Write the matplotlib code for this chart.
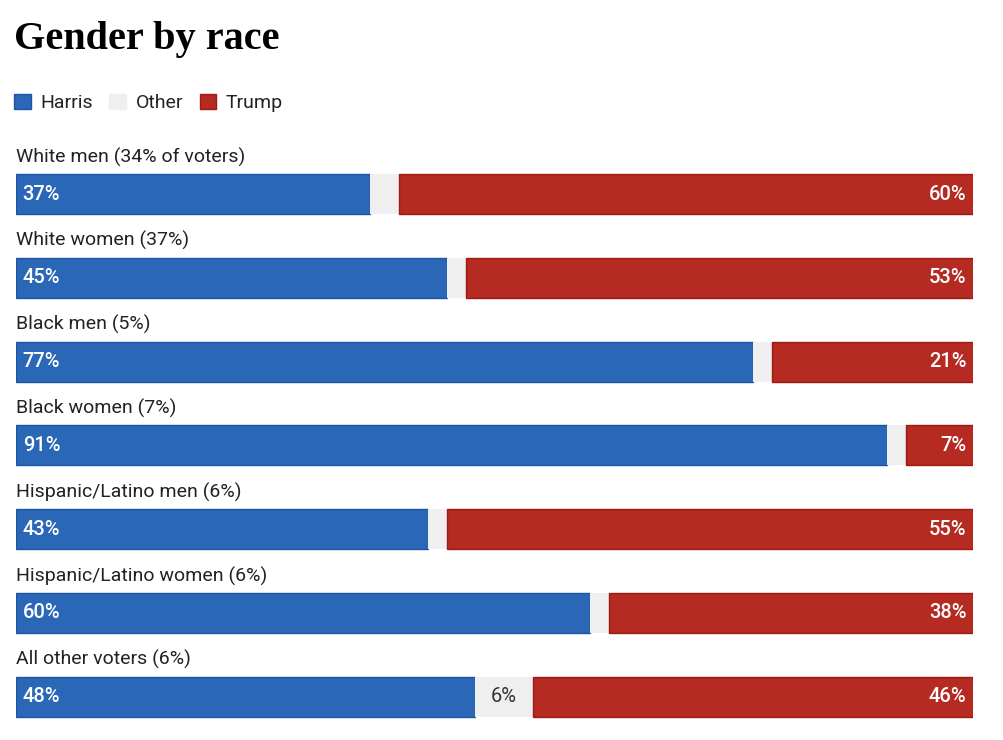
import matplotlib.pyplot as plt
from matplotlib.patches import Patch
import numpy as np

# Exit poll shares by group
groups = ["White men (34% of voters)", "White women (37%)", "Black men (5%)",
          "Black women (7%)", "Hispanic/Latino men (6%)", "Hispanic/Latino women (6%)",
          "All other voters (6%)"]
harris = np.array([37, 45, 77, 91, 43, 60, 48])
trump = np.array([60, 53, 21, 7, 55, 38, 46])
other = 100 - harris - trump

BLUE = "#2a67b6"
BLUE_EDGE = "#1d55a6"
RED = "#b52a21"
RED_EDGE = "#a01a14"
GREY = "#efefef"

W, H = 1004, 740
fig = plt.figure(figsize=(W / 100, H / 100), dpi=100)
plt.rcParams['font.family'] = ['Roboto', 'DejaVu Sans']

# axes spans the bar area horizontally; y in pixel units (top = 0)
x0, x1 = 16, 973
ax = fig.add_axes([x0 / W, 0, (x1 - x0) / W, 1])
ax.set_xlim(0, 100)
ax.set_ylim(H, 0)
ax.axis("off")

row_start, row_step, bar_h = 194, 83.8, 40
y = row_start + row_step * np.arange(len(groups))

ax.barh(y, harris, height=bar_h, color=BLUE, edgecolor=BLUE_EDGE, linewidth=1)
ax.barh(y, other, left=harris, height=bar_h, color=GREY, linewidth=0)
ax.barh(y, trump, left=harris + other, height=bar_h, color=RED, edgecolor=RED_EDGE, linewidth=1)

fs = 14
pad = 0.7
for i, g in enumerate(groups):
    ax.text(0, y[i] - 37, g, fontsize=fs, color="#222222", va="center", ha="left")
    ax.text(pad, y[i], f"{harris[i]}%", fontsize=fs + 0.5, fontweight="medium",
            color="white", va="center", ha="left")
    ax.text(100 - pad, y[i], f"{trump[i]}%", fontsize=fs + 0.5, fontweight="medium",
            color="white", va="center", ha="right")
    if other[i] >= 5:
        ax.text(harris[i] + other[i] / 2, y[i], f"{other[i]}%", fontsize=fs + 0.5,
                color="#333333", va="center", ha="center")

fig.text(14 / W, 1 - 40 / H, "Gender by race", fontsize=29, fontweight="bold",
         family="Liberation Serif", va="center", ha="left", color="black")

handles = [Patch(facecolor=BLUE, edgecolor=BLUE_EDGE, label="Harris"),
           Patch(facecolor=GREY, edgecolor=GREY, label="Other"),
           Patch(facecolor=RED, edgecolor=RED_EDGE, label="Trump")]
fig.legend(handles=handles, loc="center left", bbox_to_anchor=(14 / W, 1 - 103 / H),
           ncol=3, frameon=False, fontsize=fs, handlelength=0.85, handleheight=0.85,
           handletextpad=0.5, columnspacing=0.85, borderpad=0, borderaxespad=0,
           labelcolor="#222222")

fig.savefig("out.png", dpi=100)
